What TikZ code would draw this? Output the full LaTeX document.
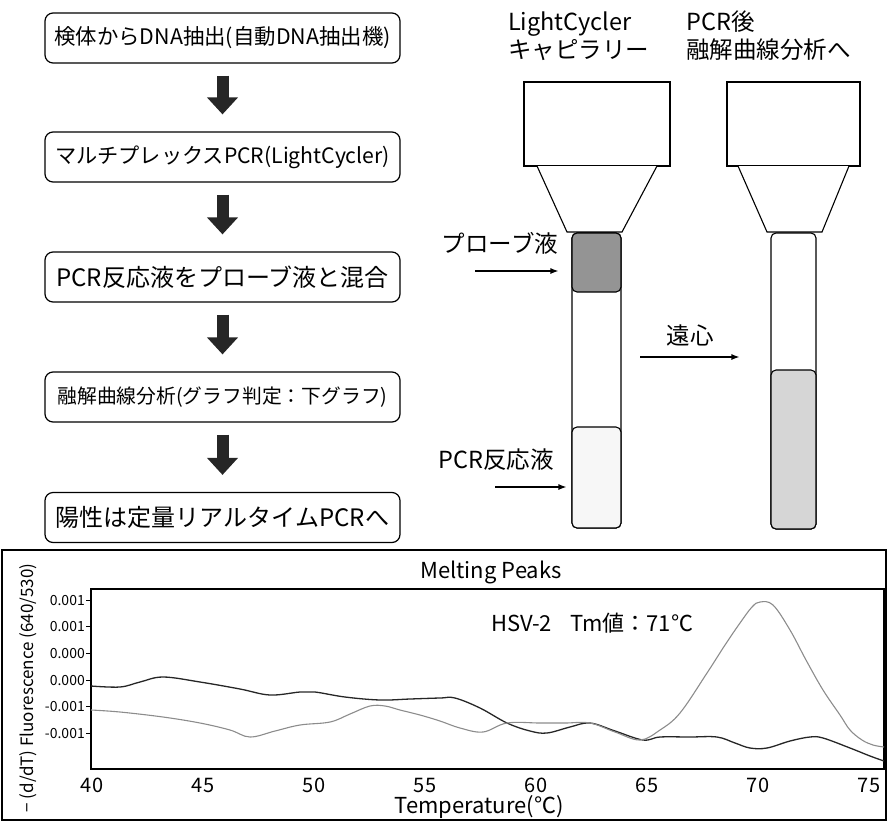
\documentclass[tikz,border=0pt]{standalone}
\usepackage{fontspec}
\setmainfont{Noto Sans CJK JP}
\usetikzlibrary{arrows.meta, positioning}

\begin{document}
\begin{tikzpicture}[
      x = 1pt, y = -1pt,
      flowbox/.style = {draw = black, line width = 1.2pt, rounded corners = 8pt,
                        minimum width = 355pt, minimum height = 50pt, inner sep = 0pt},
      blk/.style     = {-{Triangle[width = 30pt, length = 17pt]}, line width = 12pt,
                        black!85, shorten <= 12pt, shorten >= 17pt},
      part/.style    = {draw = black, line width = 1.1pt, fill = white},
      seg/.style     = {draw = black, line width = 1.1pt, rounded corners = 5pt,
                        minimum width = 49pt, inner sep = 0pt},
      arr/.style     = {-{Latex[length = 8pt, width = 6pt]}, line width = 1.2pt},
      lbl/.style     = {font = \fontsize{23.5}{28}\selectfont, inner sep = 0pt},
      ytick/.style   = {font = \fontsize{14}{16}\selectfont, inner sep = 1pt, anchor = east},
      xtick/.style   = {font = \fontsize{20}{24}\selectfont, inner sep = 0pt}
    ]
  \useasboundingbox (0,0) rectangle (888,822);

  % steps ---------------------------------------------------------------
  \node[flowbox, font = \fontsize{21.4}{25}\selectfont] (extract) at (222.5,38)
        {検体からDNA抽出(自動DNA抽出機)};
  \node[flowbox, font = \fontsize{21.2}{25}\selectfont] (mpcr) at (222.5,157)
        {マルチプレックスPCR(LightCycler)};
  \node[flowbox, font = \fontsize{24}{28}\selectfont] (mix) at (222.5,277)
        {PCR反応液をプローブ液と混合};
  \node[flowbox, font = \fontsize{19.8}{24}\selectfont] (melt) at (222.5,397)
        {融解曲線分析(グラフ判定：下グラフ)};
  \node[flowbox, font = \fontsize{24}{28}\selectfont] (qpcr) at (222.5,517.5)
        {陽性は定量リアルタイムPCRへ};

  \draw[blk] (extract.south) -- (mpcr.north);
  \draw[blk] (mpcr.south) -- (mix.north);
  \draw[blk] (mix.south) -- (melt.north);
  \draw[blk] (melt.south) -- (qpcr.north);

  % capillaries ---------------------------------------------------------
  \node[lbl, anchor = west, align = left] (caphead) at (508,36)
        {LightCycler\\キャピラリー};
  \node[lbl, anchor = west, align = left] (afterhead) at (686,36)
        {PCR後\\融解曲線分析へ};

  \draw[part] (524,82) rectangle (670,166);
  \draw[part] (537,166) -- (567,232) -- (622,232) -- (657,166);
  \draw[part, rounded corners = 5pt] (572,233) rectangle (621,528);
  \node[seg, fill = black!42, minimum height = 59pt] (probe) at (596.5,262.5) {};
  \node[seg, fill = black!3, minimum height = 101pt] (pcrmix) at (596.5,477.5) {};

  \draw[part] (727,82) rectangle (860,166);
  \draw[part] (738,166) -- (767,232) -- (822,232) -- (849,166);
  \draw[part, rounded corners = 5pt] (771,233) rectangle (816,529);
  \node[seg, fill = black!16, minimum width = 45pt, minimum height = 159pt] (mixed)
        at (793.5,449.5) {};

  \node[lbl] (probelbl) at (500,243) {プローブ液};
  \coordinate (probetail) at (475,271);
  \draw[arr, shorten >= 13pt] (probetail) -- (probetail -| probe.west);

  \node[lbl] (pcrlbl) at (496,460) {PCR反応液};
  \coordinate (pcrtail) at (495,487);
  \draw[arr, shorten >= 5pt] (pcrtail) -- (pcrtail -| pcrmix.west);

  \node[lbl] (spinlbl) at (690,335) {遠心};
  \coordinate (spintail) at (640,357);
  \draw[arr, shorten >= 31pt] (spintail) -- (spintail -| mixed.west);

  % melting peaks -------------------------------------------------------
  \draw[line width = 1.8pt] (2,550) rectangle (886,820);
  \node[font = \fontsize{22}{26}\selectfont] (title) at (491,572) {Melting Peaks};
  \draw[line width = 1.4pt] (91,589) rectangle (884,769);

  \foreach \y/\t in {600/0.001, 626/0.001, 653/0.000, 680/0.000, 706/-0.001, 733/-0.001} {
    \draw[line width = .8pt] (86,\y) -- (91,\y);
    \node[ytick] at (86,\y) {\t};
  }
  \foreach \t in {40,45,...,75}
    \node[xtick] at ({92+(\t-40)*22.2},785) {\t};

  \node[font = \fontsize{22}{26}\selectfont] (xlab) at (479,807) {Temperature(℃)};
  \node[font = \fontsize{17}{20}\selectfont, rotate = 90] (ylab) at (28,688)
        {− (d/dT) Fluorescence (640/530)};
  \node[font = \fontsize{22}{26}\selectfont] (peaklbl) at (592,623)
        {HSV-2\hspace{18pt}Tm値：71℃};

  \draw[black!85, line width = 1.3pt] plot[smooth, tension = .6] coordinates {
      (91,686) (120,687) (140,682) (163,677) (200,682) (240,689) (270,695)
      (300,692) (315,692) (345,697) (380,700) (410,699) (440,698) (455,698)
      (480,708) (507,723) (530,731) (547,733) (570,727) (590,723) (615,731)
      (643,740) (660,737) (690,737) (717,737) (735,743) (750,748) (767,748)
      (790,741) (810,737) (823,738) (850,748) (870,756) (884,761)};
  \draw[black!45, line width = 1.1pt] plot[smooth, tension = .6] coordinates {
      (91,710) (120,712) (163,717) (200,723) (230,730) (250,737) (275,731)
      (300,725) (330,722) (350,714) (370,706) (385,706) (400,710) (420,715)
      (440,721) (460,728) (483,732) (507,723) (540,723) (565,723) (590,723)
      (615,732) (640,740) (660,730) (680,713) (707,673) (725,645) (740,623)
      (752,607) (760,602) (773,605) (790,630) (806,660) (823,690) (840,715)
      (850,730) (862,740) (873,745) (884,747)};

  \end{tikzpicture}
\end{document}
